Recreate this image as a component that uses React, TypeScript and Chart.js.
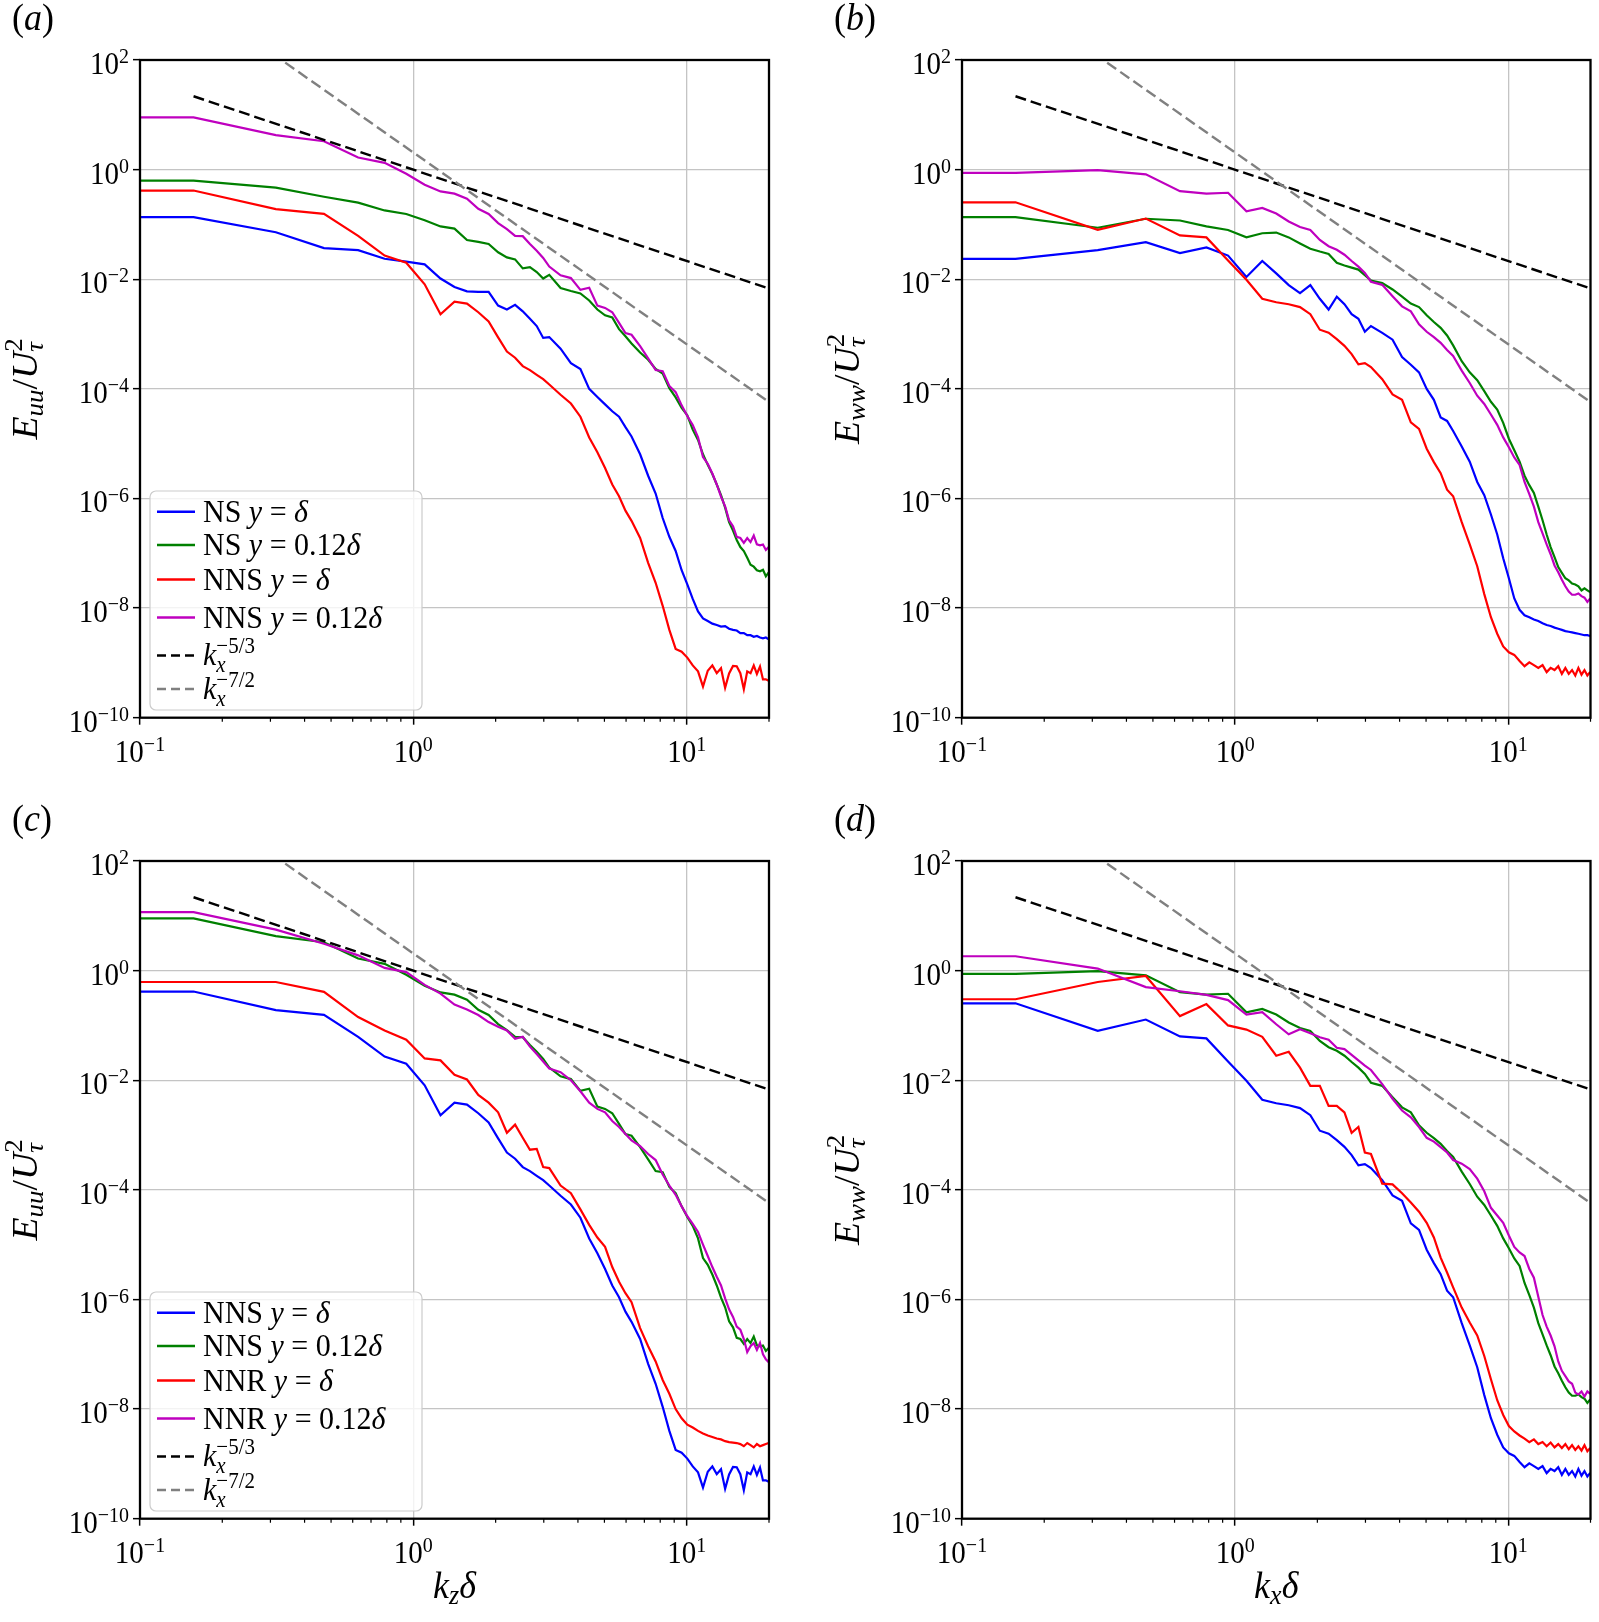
import { useEffect, useRef } from "react"
import { Chart, registerables } from "chart.js"

Chart.register(...registerables)

// wavenumbers k = n * 2π/40 (dense below k = π, thinned above); k = 0 is pinned to the left edge by the log axis
const K = [
  0, 0.157, 0.314, 0.471, 0.628, 0.785, 0.942, 1.1, 1.257, 1.414, 1.571, 1.728, 1.885, 2.042, 2.199, 2.356, 2.513, 2.67, 2.827, 2.985, 3.142,
  3.456, 3.77, 4.084, 4.398, 4.712, 5.027, 5.341, 5.655, 5.969, 6.283,
  6.754, 7.226, 7.697, 8.168, 8.639, 9.111, 9.582, 10.05, 10.52, 11.0, 11.47, 11.94, 12.41, 12.88, 13.35, 13.82, 14.29, 14.77, 15.24, 15.71, 16.18, 16.65, 17.12, 17.59, 18.06, 18.54, 19.01, 19.48, 19.95,
]

// E_uu / U_tau^2
const nsDeltaUU = [
  0.136, 0.136, 0.072, 0.037, 0.034, 0.0236, 0.021, 0.0187, 0.0103, 0.0072, 0.006, 0.0059, 0.0059, 0.0033, 0.0028, 0.0034, 0.0026, 0.0019, 0.0014, 8.5e-4, 8.8e-4,
  5.4e-4, 2.95e-4, 2.3e-4, 1.0e-4, 7.1e-5, 5.2e-5, 3.9e-5, 3.1e-5, 2.0e-5, 1.35e-5,
  6.4e-6, 2.6e-6, 1.23e-6, 4.4e-7, 2.0e-7, 1.1e-7, 4.9e-8, 2.7e-8, 1.47e-8, 8.7e-9, 6.5e-9, 5.8e-9, 5.2e-9, 4.9e-9, 4.6e-9, 4.7e-9, 4.2e-9, 4.0e-9, 3.9e-9, 3.5e-9, 3.5e-9, 3.2e-9, 3.2e-9, 3.0e-9, 3.1e-9, 2.9e-9, 2.8e-9, 2.9e-9, 2.7e-9,
]
const ns012UU = [
  0.63, 0.63, 0.47, 0.32, 0.25, 0.18, 0.155, 0.119, 0.092, 0.084, 0.052, 0.048, 0.044, 0.031, 0.025, 0.023, 0.0158, 0.0166, 0.0135, 0.0103, 0.012,
  0.0069, 0.0061, 0.0055, 0.0041, 0.0028, 0.0022, 0.002, 0.00123, 9.1e-4, 6.7e-4,
  4.6e-4, 3.4e-4, 2.3e-4, 1.9e-4, 1.03e-4, 7.0e-5, 4.5e-5, 3.3e-5, 1.8e-5, 1.17e-5, 6.4e-6, 4.1e-6, 2.8e-6, 1.8e-6, 1.15e-6, 6.8e-7, 3.7e-7, 2.6e-7, 1.75e-7, 1.3e-7, 1.1e-7, 8.3e-8, 6.2e-8, 5.7e-8, 4.9e-8, 4.7e-8, 5.0e-8, 3.8e-8, 4.5e-8,
]
const nnsDeltaUU = [
  0.415, 0.415, 0.19, 0.156, 0.062, 0.027, 0.02, 0.0081, 0.0023, 0.0039, 0.0036, 0.0025, 0.0017, 8.7e-4, 4.8e-4, 3.7e-4, 2.6e-4, 2.2e-4, 1.8e-4, 1.5e-4, 1.2e-4,
  7.8e-5, 5.4e-5, 3.1e-5, 1.3e-5, 7.0e-6, 3.6e-6, 1.8e-6, 1.1e-6, 6.0e-7, 3.9e-7,
  1.9e-7, 6.7e-8, 2.9e-8, 1.1e-8, 4.0e-9, 1.8e-9, 1.6e-9, 1.25e-9, 9.0e-10, 7.0e-10, 3.7e-10, 7.2e-10, 9.0e-10, 6.5e-10, 8.0e-10, 3.5e-10, 6.4e-10, 8.8e-10, 8.7e-10, 6.5e-10, 3.3e-10, 7.0e-10, 6.5e-10, 9.0e-10, 6.3e-10, 8.6e-10, 5.0e-10, 5.0e-10, 4.7e-10,
]
const nns012UU = [
  9.0, 9.0, 4.25, 3.3, 1.66, 1.33, 0.84, 0.53, 0.4, 0.365, 0.295, 0.193, 0.155, 0.106, 0.082, 0.062, 0.061, 0.044, 0.033, 0.0245, 0.017,
  0.0118, 0.0105, 0.0064, 0.007, 0.0033, 0.003, 0.0025, 0.0016, 0.00104, 9.7e-4,
  6.0e-4, 3.6e-4, 2.2e-4, 2.1e-4, 1.13e-4, 8.7e-5, 5.0e-5, 3.2e-5, 2.2e-5, 1.3e-5, 5.7e-6, 4.3e-6, 2.85e-6, 1.8e-6, 1.08e-6, 7.2e-7, 4.0e-7, 3.1e-7, 2.0e-7, 1.9e-7, 1.55e-7, 1.9e-7, 1.6e-7, 2.1e-7, 1.45e-7, 1.4e-7, 1.45e-7, 1.15e-7, 1.3e-7,
]
const nnrDeltaUU = [
  0.62, 0.62, 0.62, 0.41, 0.142, 0.081, 0.055, 0.025, 0.023, 0.0126, 0.0103, 0.0054, 0.0039, 0.0026, 0.0011, 0.00155, 8.9e-4, 5.4e-4, 5.6e-4, 2.6e-4, 2.5e-4,
  1.2e-4, 8.7e-5, 4.4e-5, 2.3e-5, 1.35e-5, 9.1e-6, 3.9e-6, 2.1e-6, 1.3e-6, 8.9e-7,
  3.0e-7, 1.4e-7, 7.4e-8, 3.4e-8, 1.9e-8, 1.0e-8, 6.8e-9, 5.2e-9, 4.6e-9, 4.0e-9, 3.6e-9, 3.3e-9, 3.1e-9, 2.9e-9, 2.8e-9, 2.6e-9, 2.5e-9, 2.45e-9, 2.4e-9, 2.3e-9, 2.1e-9, 2.4e-9, 2.2e-9, 2.0e-9, 2.3e-9, 2.1e-9, 2.2e-9, 2.3e-9, 2.4e-9,
]
const nnr012UU = [
  11.7, 11.7, 5.6, 3.1, 1.9, 1.12, 0.94, 0.55, 0.38, 0.24, 0.195, 0.155, 0.115, 0.095, 0.081, 0.057, 0.062, 0.041, 0.03, 0.022, 0.0164,
  0.014, 0.01, 0.0063, 0.0039, 0.003, 0.0026, 0.0018, 0.0014, 0.00105, 8.0e-4,
  6.3e-4, 4.5e-4, 3.5e-4, 1.9e-4, 1.2e-4, 8.1e-5, 5.0e-5, 3.3e-5, 2.4e-5, 1.7e-5, 1.0e-5, 6.2e-6, 3.9e-6, 2.6e-6, 1.8e-6, 1.05e-6, 6.6e-7, 4.8e-7, 3.2e-7, 2.8e-7, 1.9e-7, 1.1e-7, 1.4e-7, 1.6e-7, 1.2e-7, 1.6e-7, 1.0e-7, 8.1e-8, 7.2e-8,
]

// E_ww / U_tau^2
const nsDeltaWW = [
  0.0236, 0.0236, 0.034, 0.0475, 0.03, 0.038, 0.027, 0.011, 0.0215, 0.0128, 0.0078, 0.0056, 0.0078, 0.0044, 0.0028, 0.0048, 0.0035, 0.0023, 0.0019, 0.0011, 0.0014,
  0.00105, 7.9e-4, 3.8e-4, 2.75e-4, 2.0e-4, 1.0e-4, 6.3e-5, 3.0e-5, 2.6e-5, 1.7e-5,
  8.9e-6, 4.7e-6, 2.0e-6, 1.15e-6, 5.1e-7, 2.2e-7, 8.1e-8, 3.5e-8, 1.5e-8, 9.3e-9, 7.4e-9, 6.8e-9, 6.2e-9, 5.8e-9, 5.3e-9, 4.9e-9, 4.7e-9, 4.4e-9, 4.2e-9, 4.0e-9, 3.8e-9, 3.7e-9, 3.6e-9, 3.5e-9, 3.4e-9, 3.3e-9, 3.2e-9, 3.2e-9, 3.1e-9,
]
const ns012WW = [
  0.136, 0.136, 0.087, 0.127, 0.118, 0.092, 0.079, 0.058, 0.069, 0.071, 0.058, 0.045, 0.036, 0.032, 0.029, 0.02, 0.0178, 0.0163, 0.015, 0.0118, 0.0095,
  0.0085, 0.0065, 0.0048, 0.0036, 0.0031, 0.0022, 0.00166, 0.0013, 9.4e-4, 6.2e-4,
  3.2e-4, 2.0e-4, 1.44e-4, 9.1e-5, 5.8e-5, 4.2e-5, 2.4e-5, 1.23e-5, 7.6e-6, 4.7e-6, 2.6e-6, 1.75e-6, 1.26e-6, 7.1e-7, 4.0e-7, 2.2e-7, 1.3e-7, 8.5e-8, 5.6e-8, 4.4e-8, 3.5e-8, 3.2e-8, 2.8e-8, 2.7e-8, 2.5e-8, 2.1e-8, 2.3e-8, 2.1e-8, 1.95e-8,
]
const nnsDeltaWW = [
  0.253, 0.253, 0.08, 0.128, 0.063, 0.058, 0.022, 0.0098, 0.0044, 0.0038, 0.0035, 0.0031, 0.0023, 0.0012, 0.00106, 8.1e-4, 6.1e-4, 4.3e-4, 2.8e-4, 2.95e-4, 2.5e-4,
  1.5e-4, 7.9e-5, 6.3e-5, 2.45e-5, 1.86e-5, 8.1e-6, 4.6e-6, 2.9e-6, 1.45e-6, 1.1e-6,
  3.7e-7, 1.45e-7, 5.8e-8, 1.8e-8, 6.8e-9, 3.4e-9, 2.0e-9, 1.56e-9, 1.4e-9, 1.08e-9, 8.7e-10, 1.02e-9, 9.1e-10, 8.1e-10, 9.1e-10, 6.8e-10, 8.1e-10, 7.4e-10, 8.7e-10, 6.3e-10, 8.1e-10, 6.3e-10, 7.4e-10, 5.9e-10, 8.1e-10, 6.1e-10, 7.4e-10, 5.9e-10, 6.8e-10,
]
const nns012WW = [
  0.875, 0.875, 0.98, 0.82, 0.405, 0.365, 0.378, 0.174, 0.2, 0.158, 0.113, 0.09, 0.079, 0.052, 0.04, 0.0345, 0.028, 0.0215, 0.017, 0.013, 0.009,
  0.0079, 0.0049, 0.0032, 0.0026, 0.0015, 0.0011, 8.8e-4, 6.9e-4, 5.1e-4, 4.0e-4,
  2.15e-4, 1.28e-4, 7.5e-5, 5.3e-5, 3.4e-5, 2.2e-5, 1.3e-5, 8.6e-6, 5.6e-6, 4.1e-6, 2.0e-6, 1.2e-6, 7.1e-7, 3.7e-7, 2.3e-7, 1.45e-7, 9.6e-8, 6.0e-8, 4.5e-8, 3.3e-8, 2.5e-8, 2.0e-8, 1.75e-8, 1.75e-8, 1.85e-8, 1.65e-8, 1.55e-8, 1.3e-8, 1.5e-8,
]
const nnrDeltaWW = [
  0.3, 0.3, 0.62, 0.8, 0.148, 0.245, 0.1, 0.084, 0.062, 0.028, 0.033, 0.017, 0.0079, 0.0079, 0.0034, 0.0034, 0.0026, 0.0011, 0.0014, 4.8e-4, 4.5e-4,
  1.3e-4, 1.26e-4, 8.7e-5, 5.9e-5, 4.0e-5, 2.5e-5, 1.35e-5, 5.8e-6, 3.1e-6, 1.66e-6,
  7.1e-7, 3.8e-7, 2.2e-7, 9.3e-8, 3.5e-8, 1.45e-8, 7.8e-9, 4.9e-9, 3.9e-9, 3.3e-9, 2.9e-9, 2.5e-9, 2.8e-9, 2.3e-9, 2.5e-9, 2.1e-9, 2.45e-9, 2.0e-9, 2.3e-9, 1.95e-9, 2.3e-9, 1.85e-9, 2.2e-9, 1.8e-9, 2.1e-9, 1.75e-9, 2.2e-9, 1.7e-9, 1.95e-9,
]
const nnr012WW = [
  1.83, 1.83, 1.09, 0.5, 0.42, 0.36, 0.29, 0.157, 0.175, 0.105, 0.069, 0.085, 0.072, 0.061, 0.055, 0.039, 0.037, 0.029, 0.023, 0.0185, 0.0154,
  0.0085, 0.0046, 0.0028, 0.0021, 0.0014, 8.9e-4, 7.6e-4, 6.0e-4, 4.8e-4, 3.5e-4,
  3.0e-4, 2.4e-4, 1.6e-4, 9.4e-5, 4.7e-5, 3.4e-5, 2.5e-5, 1.47e-5, 9.1e-6, 7.2e-6, 6.2e-6, 3.6e-6, 2.5e-6, 1.12e-6, 5.2e-7, 3.2e-7, 2.2e-7, 1.4e-7, 7.4e-8, 5.0e-8, 4.0e-8, 3.2e-8, 2.9e-8, 2.0e-8, 1.85e-8, 2.1e-8, 1.7e-8, 2.1e-8, 1.9e-8,
]

// reference slopes, end points only (straight on log-log axes)
const REF_K = [0.157, 19.95]
const SLOPE_53 = [21.8, 0.0068]
const SLOPE_72 = [1335, 5.8e-5]

const X_TICKS = [0.1, 1, 10]
const X_MINOR = [0.2, 0.3, 0.4, 0.5, 0.6, 0.7, 0.8, 0.9, 2, 3, 4, 5, 6, 7, 8, 9, 20]
const Y_TICKS = [1e-10, 1e-8, 1e-6, 1e-4, 1e-2, 1, 100]

const COLORS = ["#0000ff", "#008000", "#ff0000", "#bf00bf"]
const SERIF = '"Liberation Serif", "Times New Roman", serif'
const STRETCH = 1.08

type Run = { text: string; size: number; italic?: boolean; dy?: number; stack?: boolean }

const fontOf = (r: Run) => `${r.italic ? "italic " : ""}${r.size}px ${SERIF}`

function runsWidth(ctx: CanvasRenderingContext2D, runs: Run[]) {
  let w = 0
  let held = 0
  for (const r of runs) {
    ctx.font = fontOf(r)
    const m = ctx.measureText(r.text).width
    if (r.stack) held = m
    else {
      w += Math.max(m, held)
      held = 0
    }
  }
  return w
}

// draws a line of mixed text (sub/superscripts), slightly stretched vertically like the source figure
function drawRuns(ctx: CanvasRenderingContext2D, runs: Run[], x: number, y: number, align: string, rot = 0) {
  ctx.save()
  ctx.translate(x, y)
  if (rot) {
    ctx.rotate(rot)
    ctx.scale(STRETCH, 1)
  } else {
    ctx.scale(1, STRETCH)
  }
  const total = runsWidth(ctx, runs)
  let cx = align === "center" ? -total / 2 : align === "right" ? -total : 0
  let held = 0
  ctx.fillStyle = "#000"
  ctx.textAlign = "left"
  ctx.textBaseline = "alphabetic"
  for (const r of runs) {
    ctx.font = fontOf(r)
    const m = ctx.measureText(r.text).width
    ctx.fillText(r.text, cx, r.dy ?? 0)
    if (r.stack) held = m
    else {
      cx += Math.max(m, held)
      held = 0
    }
  }
  ctx.restore()
}

const powerRuns = (v: number): Run[] => [
  { text: "10", size: 29 },
  { text: String(Math.round(Math.log10(v))).replace("-", "\u2212"), size: 20, dy: -10 },
]

const yTitleRuns = (v: string): Run[] => [
  { text: "E", size: 35, italic: true },
  { text: v, size: 25, italic: true, dy: 6 },
  { text: "/", size: 35 },
  { text: "U", size: 35, italic: true },
  { text: "τ", size: 25, italic: true, dy: 6, stack: true },
  { text: "2", size: 25, dy: -15 },
]

const xTitleRuns = (v: string): Run[] => [
  { text: "k", size: 36, italic: true },
  { text: v, size: 26, italic: true, dy: 6 },
  { text: "δ", size: 36, italic: true },
]

const LEG = 30
const LEG_SUB = 21
const seriesRuns = (name: string, frac: string): Run[] => [
  { text: name + " ", size: LEG },
  { text: "y", size: LEG, italic: true },
  { text: " = " + frac, size: LEG },
  { text: "δ", size: LEG, italic: true },
]
const slopeRuns = (exp: string): Run[] => [
  { text: "k", size: LEG, italic: true },
  { text: "x", size: LEG_SUB, italic: true, dy: 6.5, stack: true },
  { text: exp, size: LEG_SUB, dy: -11 },
]

// legend row centres, measured up from the bottom of the plot area
const LEGEND_ROWS = [206, 172.7, 138.2, 100.2, 62.2, 28.7]

type Area = { l: number; t: number; r: number; b: number }
type PanelDef = {
  id: string
  x: number
  y: number
  w: number
  h: number
  area: Area
  series: number[][]
  legend: string[] | null
  yVar: string
  xVar: string | null
}

const PANELS: PanelDef[] = [
  { id: "a", x: 0, y: 0, w: 800, h: 800, area: { l: 140, t: 60, r: 769, b: 717.7 }, series: [nsDeltaUU, ns012UU, nnsDeltaUU, nns012UU], legend: ["NS", "NS", "NNS", "NNS"], yVar: "uu", xVar: null },
  { id: "b", x: 800, y: 0, w: 799, h: 800, area: { l: 162, t: 60, r: 790.5, b: 717.7 }, series: [nsDeltaWW, ns012WW, nnsDeltaWW, nns012WW], legend: null, yVar: "ww", xVar: null },
  { id: "c", x: 0, y: 800, w: 800, h: 822, area: { l: 140, t: 61, r: 769, b: 718.7 }, series: [nnsDeltaUU, nns012UU, nnrDeltaUU, nnr012UU], legend: ["NNS", "NNS", "NNR", "NNR"], yVar: "uu", xVar: "z" },
  { id: "d", x: 800, y: 800, w: 799, h: 822, area: { l: 162, t: 61, r: 790.5, b: 718.7 }, series: [nnsDeltaWW, nns012WW, nnrDeltaWW, nnr012WW], legend: null, yVar: "ww", xVar: "x" },
]

function drawLegend(ctx: CanvasRenderingContext2D, a: any, names: string[]) {
  const x0 = a.left + 10
  const y0 = a.bottom - 226.7
  ctx.save()
  ctx.beginPath()
  ctx.roundRect(x0, y0, 272, 219, 6)
  ctx.fillStyle = "rgba(255,255,255,0.8)"
  ctx.fill()
  ctx.strokeStyle = "#cccccc"
  ctx.lineWidth = 1.2
  ctx.stroke()

  const swatch = (cy: number, color: string, dashed: boolean) => {
    ctx.beginPath()
    ctx.setLineDash(dashed ? [9, 5] : [])
    ctx.strokeStyle = color
    ctx.lineWidth = 2.4
    ctx.moveTo(a.left + 17, cy)
    ctx.lineTo(a.left + 55, cy)
    ctx.stroke()
  }
  names.forEach((name, i) => {
    const cy = a.bottom - LEGEND_ROWS[i]
    swatch(cy, COLORS[i], false)
    drawRuns(ctx, seriesRuns(name, i % 2 ? "0.12" : ""), a.left + 63, cy + 10, "left")
  })
  const c5 = a.bottom - LEGEND_ROWS[4]
  const c6 = a.bottom - LEGEND_ROWS[5]
  swatch(c5, "#000000", true)
  swatch(c6, "#808080", true)
  ctx.setLineDash([])
  drawRuns(ctx, slopeRuns("\u22125/3"), a.left + 63, c5 + 9.5, "left")
  drawRuns(ctx, slopeRuns("\u22127/2"), a.left + 63, c6 + 9.5, "left")
  ctx.restore()
}

function decorations(p: PanelDef) {
  return {
    id: "decor-" + p.id,
    afterDraw(chart: any) {
      const { ctx, chartArea: a } = chart
      const xs = chart.scales.x
      const ys = chart.scales.y

      ctx.save()
      ctx.strokeStyle = "#000"
      ctx.lineWidth = 1.2
      ctx.beginPath()
      for (const v of X_MINOR) {
        const px = xs.getPixelForValue(v)
        ctx.moveTo(px, a.bottom)
        ctx.lineTo(px, a.bottom + 4)
      }
      ctx.stroke()
      ctx.lineWidth = 2.3
      ctx.strokeRect(a.left, a.top, a.right - a.left, a.bottom - a.top)
      ctx.restore()

      for (const v of X_TICKS) drawRuns(ctx, powerRuns(v), xs.getPixelForValue(v), a.bottom + 44, "center")
      for (const v of Y_TICKS) drawRuns(ctx, powerRuns(v), a.left - 11, ys.getPixelForValue(v) + 14, "right")

      drawRuns(ctx, yTitleRuns(p.yVar), a.left - 103, (a.top + a.bottom) / 2, "center", -Math.PI / 2)
      if (p.xVar) drawRuns(ctx, xTitleRuns(p.xVar), (a.left + a.right) / 2, a.bottom + 79, "center")
      drawRuns(
        ctx,
        [
          { text: "(", size: 36 },
          { text: p.id, size: 36, italic: true },
          { text: ")", size: 36 },
        ],
        a.left - 128,
        a.top - 30,
        "left"
      )
      if (p.legend) drawLegend(ctx, a, p.legend)
    },
  }
}

function SpectrumPanel({ panel }: { panel: PanelDef }) {
  const canvasRef = useRef<HTMLCanvasElement>(null)

  useEffect(() => {
    if (!canvasRef.current) return
    const { w, h, area, series } = panel

    const line = (ys: number[], color: string) => ({
      data: K.map((x, i) => ({ x, y: ys[i] })),
      borderColor: color,
      borderWidth: 2.2,
      pointRadius: 0,
      tension: 0,
      fill: false,
    })
    const ref = (ys: number[], color: string) => ({
      data: REF_K.map((x, i) => ({ x, y: ys[i] })),
      borderColor: color,
      borderWidth: 2.4,
      borderDash: [11, 5],
      pointRadius: 0,
      fill: false,
    })

    // Chart.js paints dataset 0 last, so the dashed guides sit on top as in the source
    const datasets = [
      ref(SLOPE_72, "#808080"),
      ref(SLOPE_53, "#000000"),
      line(series[3], COLORS[3]),
      line(series[2], COLORS[2]),
      line(series[1], COLORS[1]),
      line(series[0], COLORS[0]),
    ]

    const grid = { color: "#c4c4c4", lineWidth: 1.3, drawTicks: true, tickLength: 7, tickColor: "#000", tickWidth: 1.5 }

    const chart = new Chart(canvasRef.current, {
      type: "line",
      data: { datasets },
      options: {
        animation: false,
        responsive: false,
        events: [],
        layout: { padding: { left: 0, top: area.t, right: w - area.r, bottom: 0 } },
        plugins: { legend: { display: false }, tooltip: { enabled: false } },
        scales: {
          x: {
            type: "logarithmic",
            position: "bottom",
            min: 0.1,
            max: 20,
            afterBuildTicks: (s: any) => {
              s.ticks = X_TICKS.map((value) => ({ value }))
            },
            afterFit: (s: any) => {
              s.height = h - area.b
            },
            ticks: { display: false },
            border: { display: false },
            grid,
          },
          y: {
            type: "logarithmic",
            position: "left",
            min: 1e-10,
            max: 100,
            afterBuildTicks: (s: any) => {
              s.ticks = Y_TICKS.map((value) => ({ value }))
            },
            afterFit: (s: any) => {
              s.width = area.l
            },
            ticks: { display: false },
            border: { display: false },
            grid,
          },
        },
      } as any,
      plugins: [decorations(panel)],
    })

    return () => chart.destroy()
  }, [panel])

  return (
    <canvas
      ref={canvasRef}
      width={panel.w}
      height={panel.h}
      style={{ position: "absolute", left: panel.x, top: panel.y, width: panel.w, height: panel.h }}
    />
  )
}

export default function App() {
  return (
    <div style={{ position: "absolute", left: 0, top: 0, width: 1599, height: 1622, background: "#ffffff" }}>
      {PANELS.map((p) => (
        <SpectrumPanel key={p.id} panel={p} />
      ))}
    </div>
  )
}
